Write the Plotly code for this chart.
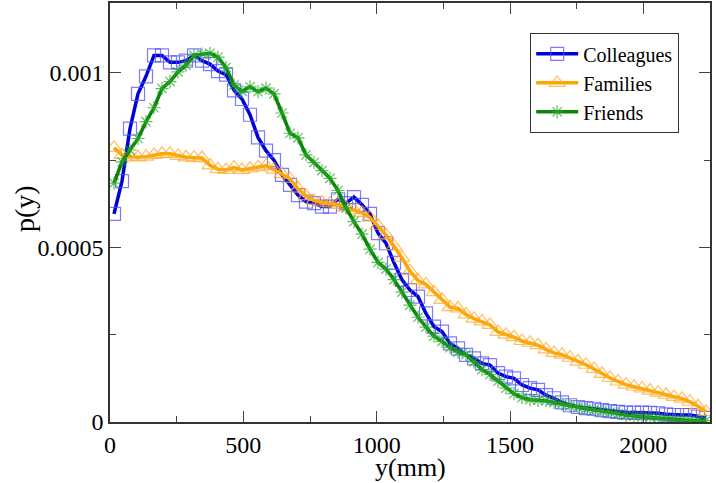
import plotly.graph_objects as go

# bin centres (mm)
y_mm = [15, 45, 75, 105, 135, 165, 195, 225, 255, 285, 315, 345, 375, 405, 435,
        465, 495, 525, 555, 585, 615, 645, 675, 705, 735, 765, 795, 825, 855, 885,
        915, 945, 975, 1005, 1035, 1065, 1095, 1125, 1155, 1185, 1215, 1245, 1275,
        1305, 1335, 1365, 1395, 1425, 1455, 1485, 1515, 1545, 1575, 1605, 1635,
        1665, 1695, 1725, 1755, 1785, 1815, 1845, 1875, 1905, 1935, 1965, 1995,
        2025, 2055, 2085, 2115, 2145, 2175, 2205, 2235]

colleagues = [5.96e-4, 6.90e-4, 8.40e-4, 9.40e-4, 9.90e-4, 10.50e-4, 10.50e-4, 10.30e-4, 10.30e-4, 10.35e-4,
              10.50e-4, 10.35e-4, 10.25e-4, 10.05e-4, 9.95e-4, 9.50e-4, 9.25e-4, 8.80e-4, 8.15e-4,
              7.77e-4, 7.50e-4, 7.08e-4, 6.79e-4, 6.50e-4, 6.31e-4, 6.27e-4, 6.17e-4, 6.17e-4, 6.38e-4,
              6.27e-4, 6.44e-4, 6.22e-4, 5.96e-4, 5.41e-4, 5.12e-4, 4.56e-4,
              4.07e-4, 3.78e-4, 3.59e-4, 3.11e-4, 2.73e-4, 2.59e-4, 2.25e-4, 2.11e-4, 1.92e-4, 1.82e-4,
              1.68e-4, 1.63e-4, 1.40e-4, 1.30e-4, 1.25e-4, 1.06e-4, 0.97e-4, 0.92e-4, 0.77e-4,
              0.68e-4, 0.56e-4, 0.48e-4, 0.43e-4, 0.40e-4, 0.38e-4, 0.34e-4, 0.31e-4, 0.29e-4, 0.27e-4,
              0.27e-4, 0.27e-4, 0.26e-4, 0.25e-4, 0.22e-4, 0.20e-4, 0.20e-4, 0.20e-4, 0.15e-4, 0.12e-4]

families = [7.85e-4, 7.65e-4, 7.60e-4, 7.58e-4, 7.60e-4, 7.65e-4, 7.68e-4, 7.68e-4, 7.62e-4, 7.58e-4,
            7.57e-4, 7.56e-4, 7.35e-4, 7.24e-4, 7.22e-4, 7.29e-4, 7.22e-4, 7.26e-4, 7.30e-4,
            7.34e-4, 7.23e-4, 7.10e-4, 6.96e-4, 6.68e-4, 6.47e-4, 6.34e-4, 6.29e-4, 6.26e-4, 6.22e-4,
            6.14e-4, 6.07e-4, 5.99e-4, 5.86e-4, 5.62e-4, 5.35e-4, 5.03e-4,
            4.70e-4, 4.32e-4, 4.05e-4, 3.94e-4, 3.72e-4, 3.50e-4, 3.29e-4, 3.25e-4, 3.08e-4, 2.96e-4,
            2.88e-4, 2.78e-4, 2.58e-4, 2.50e-4, 2.43e-4, 2.32e-4, 2.27e-4, 2.20e-4, 2.08e-4,
            1.98e-4, 1.93e-4, 1.84e-4, 1.73e-4, 1.64e-4, 1.52e-4, 1.38e-4, 1.26e-4, 1.16e-4, 1.07e-4,
            1.01e-4, 0.96e-4, 0.90e-4, 0.84e-4, 0.78e-4, 0.72e-4, 0.67e-4, 0.58e-4, 0.45e-4, 0.29e-4]

friends = [6.84e-4, 7.45e-4, 7.79e-4, 8.12e-4, 8.60e-4, 9.00e-4, 9.55e-4, 9.75e-4, 10.03e-4, 10.22e-4,
           10.50e-4, 10.54e-4, 10.56e-4, 10.45e-4, 10.15e-4, 9.65e-4, 9.47e-4, 9.60e-4, 9.46e-4,
           9.56e-4, 9.40e-4, 8.85e-4, 8.27e-4, 8.14e-4, 7.65e-4, 7.43e-4, 7.20e-4, 6.98e-4, 6.63e-4,
           6.13e-4, 5.74e-4, 5.38e-4, 4.95e-4, 4.57e-4, 4.38e-4, 4.08e-4,
           3.72e-4, 3.35e-4, 3.00e-4, 2.72e-4, 2.46e-4, 2.31e-4, 2.13e-4, 2.00e-4, 1.93e-4, 1.72e-4,
           1.50e-4, 1.36e-4, 1.17e-4, 0.97e-4, 0.81e-4, 0.70e-4, 0.64e-4, 0.62e-4, 0.61e-4,
           0.56e-4, 0.51e-4, 0.46e-4, 0.42e-4, 0.38e-4, 0.35e-4, 0.32e-4, 0.28e-4, 0.24e-4, 0.19e-4,
           0.17e-4, 0.15e-4, 0.13e-4, 0.11e-4, 0.08e-4, 0.06e-4, 0.05e-4, 0.04e-4, 0.04e-4, 0.04e-4]

series_names = ["Colleagues", "Families", "Friends"]
x_title = "y(mm)"
y_title = "p(y)"

FONT = "Liberation Serif"

fig = go.Figure()
styles = [
    dict(line="#0000d8", marker="rgba(80,80,255,0.75)", symbol="square-open", size=13),
    dict(line="#ffa500", marker="rgba(255,170,40,0.75)", symbol="triangle-up-open", size=14),
    dict(line="#0a850a", marker="rgba(40,170,40,0.75)", symbol="asterisk-open", size=11),
]
for name, vals, st in zip(series_names, [colleagues, families, friends], styles):
    fig.add_trace(go.Scatter(
        x=y_mm, y=vals, name=name, mode="lines+markers",
        line=dict(color=st["line"], width=3.5),
        marker=dict(symbol=st["symbol"], size=st["size"], color=st["marker"],
                    line=dict(width=1.2, color=st["marker"])),
    ))

axis_common = dict(
    showline=True, linecolor="#333333", linewidth=1.5, mirror="ticks",
    ticks="inside", ticklen=11, tickwidth=1.2, tickcolor="#444444",
    showgrid=False, zeroline=False, automargin=False,
    tickfont=dict(family=FONT, size=24, color="black"),
)

fig.update_layout(
    width=716, height=483,
    margin=dict(l=110, r=6, t=3, b=61),
    paper_bgcolor="white", plot_bgcolor="white",
    font=dict(family=FONT, color="black"),
    xaxis=dict(range=[0, 2250], tick0=0, dtick=500,
               minor=dict(ticks="inside", ticklen=6, dtick=250, tickcolor="#444444", tickwidth=1.2),
               **axis_common),
    yaxis=dict(range=[0, 0.0012], tick0=0, dtick=0.0005, tickformat=".4~f",
               minor=dict(ticks="inside", ticklen=6, dtick=0.00025, tickcolor="#444444", tickwidth=1.2),
               **axis_common),
    legend=dict(x=0.70, y=0.928, xanchor="left", yanchor="top",
                bgcolor="white", bordercolor="#333333", borderwidth=1.2,
                font=dict(family=FONT, size=20, color="black"),
                tracegroupgap=0, itemwidth=42),
    showlegend=True,
    annotations=[
        dict(text=x_title, xref="paper", yref="paper", x=0.5, y=-0.109,
             xanchor="center", yanchor="middle", showarrow=False,
             font=dict(family=FONT, size=26, color="black")),
        dict(text=y_title, xref="paper", yref="paper", x=-0.142, y=0.51,
             xanchor="center", yanchor="middle", showarrow=False, textangle=-90,
             font=dict(family=FONT, size=28, color="black")),
    ],
)

fig.write_html("out.html", config={"displayModeBar": False},
               post_script="document.body.style.margin='0';")
